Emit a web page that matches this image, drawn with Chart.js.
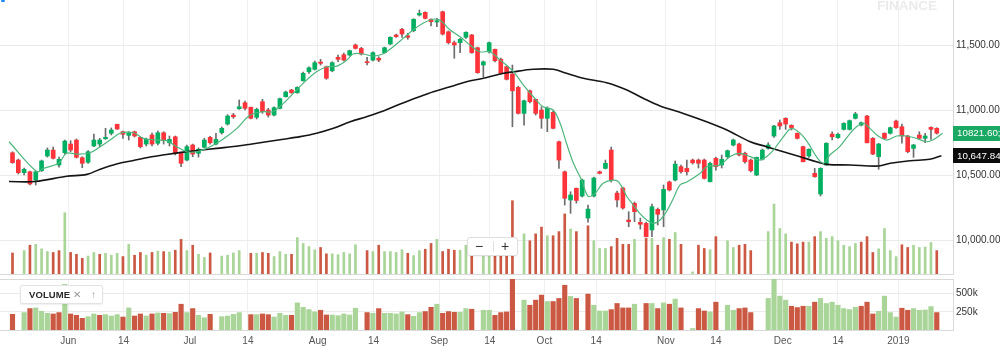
<!DOCTYPE html>
<html>
<head>
<meta charset="utf-8">
<script src="https://cdn.jsdelivr.net/npm/chart.js@4.4.1/dist/chart.umd.min.js"></script>
<style>
html,body{margin:0;padding:0;background:#fff;}
#wrap{position:relative;width:1000px;height:356px;overflow:hidden;background:#fff;font-family:"Liberation Sans",Arial,Helvetica,sans-serif;}
#main{position:absolute;left:0;top:0;}
#vol{position:absolute;left:0;top:276px;}
.wm{position:absolute;left:877px;top:-2px;font-weight:bold;font-size:13.5px;color:#ebebeb;white-space:nowrap;}
.dot{position:absolute;left:1px;top:0;width:4px;height:2px;background:#1a8cff;border-radius:1px;}
.legend{position:absolute;left:20px;top:285px;width:81px;height:17px;background:#fff;border:1px solid #e3e3e3;border-radius:2px;box-shadow:0 1px 2px rgba(0,0,0,0.07);}
.legend span{position:absolute;top:0;line-height:17px;}
.legend .t{left:8px;font-size:9.5px;font-weight:bold;color:#26282a;letter-spacing:0.1px;}
.legend .x{left:52px;font-size:10px;color:#9a9a9a;}
.legend .u{left:70px;font-size:10px;color:#9a9a9a;}
.zoomc{position:absolute;left:467px;top:237px;width:49px;height:17px;background:#fff;border:1px solid #dedede;border-radius:3px;box-shadow:0 1px 2px rgba(0,0,0,0.06);}
.zoomc span{position:absolute;top:0;line-height:16px;font-size:14px;color:#333;}
.zoomc .m{left:7px;}
.zoomc .p{left:33px;}
.zoomc .d{position:absolute;left:25px;top:3px;width:1px;height:11px;background:#e0e0e0;}
</style>
</head>
<body>
<div id="wrap">
  <canvas id="main" width="1000" height="276"></canvas>
  <canvas id="vol" width="1000" height="80"></canvas>
  <div class="wm">FINANCE</div>
  <div class="dot"></div>
  <div class="legend"><span class="t">VOLUME</span><span class="x">✕</span><span class="u">↑</span></div>
  <div class="zoomc"><span class="m">−</span><div class="d"></div><span class="p">+</span></div>
</div>
<script>
// ---------- data ----------
const tickPos = [9.6,19.1,30.5,40.5,52.5,62.1,73.4,82.1,91.5,100.4,112.4,121,132.5,142,152.4];
const tickLabels = ['Jun','14','Jul','14','Aug','14','Sep','14','Oct','14','Nov','14','Dec','14','2019'];
const priceTicks = [10000,10500,11000,11500];
const volTicks = [250000,500000];

const opens = [10671,10615,10518,10525,10461,10533,10646,10692,10577,10671,
10738,10769,10633,10598,10723,10738,10779,10821,10890,10833,
10805,10833,10790,10738,10808,10744,10825,10748,10794,10671,
10615,10731,10667,10713,10790,10738,10825,10892,10961,11010,
11056,11021,10944,11064,11000,10961,11013,11102,11154,11133,
11225,11294,11313,11369,11333,11302,11405,11425,11423,11500,
11474,11371,11384,11398,11441,11508,11577,11621,11571,11610,
11731,11751,11698,11677,11756,11602,11518,11518,11559,11577,
11479,11346,11448,11467,11390,11333,11277,11174,10974,11148,
11082,11000,10936,10982,10756,10525,10308,10398,10338,10169,
10338,10525,10551,10692,10361,10400,10154,10282,10136,10128,
10077,10236,10231,10446,10461,10564,10551,10615,10615,10615,
10448,10628,10577,10641,10731,10738,10667,10615,10500,10621,
10705,10800,10902,10936,10882,10821,10718,10646,10513,10354,
10577,10815,10787,10851,10851,10936,10884,10954,10782,10641,
10821,10821,10915,10871,10800,10705,10808,10782,10867,10859];

const highs = [10679,10623,10554,10531,10531,10615,10708,10715,10638,10769,
10764,10777,10641,10687,10815,10782,10859,10862,10892,10838,
10833,10838,10792,10784,10823,10838,10833,10800,10800,10677,
10731,10738,10708,10782,10798,10821,10869,10964,10974,11077,
11069,11023,11015,11082,11013,11025,11092,11146,11159,11179,
11292,11333,11377,11390,11338,11371,11423,11438,11461,11508,
11482,11405,11448,11410,11484,11564,11584,11628,11590,11702,
11769,11756,11702,11705,11761,11608,11531,11551,11602,11582,
11484,11377,11523,11469,11400,11338,11346,11184,11077,11154,
11084,11025,11025,10992,10761,10531,10371,10400,10469,10269,
10484,10531,10615,10715,10377,10408,10218,10292,10169,10138,
10277,10246,10423,10454,10608,10577,10615,10623,10623,10623,
10600,10638,10654,10692,10777,10746,10677,10623,10638,10700,
10748,10882,10923,10941,10887,10823,10723,10702,10551,10556,
10748,10833,10823,10902,10923,10982,10908,10959,10787,10744,
10825,10869,10923,10892,10805,10736,10833,10821,10871,10864];

const lows = [10590,10508,10500,10423,10423,10527,10638,10623,10561,10661,
10679,10631,10556,10590,10718,10718,10774,10808,10851,10782,
10769,10792,10708,10723,10723,10731,10738,10723,10654,10564,
10608,10641,10638,10708,10738,10731,10815,10884,10936,11005,
11000,10931,10931,10974,10946,10954,11008,11100,11128,11128,
11221,11282,11308,11346,11236,11294,11371,11377,11415,11469,
11423,11346,11377,11371,11436,11502,11559,11559,11544,11602,
11723,11700,11646,11641,11577,11508,11398,11441,11551,11436,
11282,11256,11438,11369,11277,11231,10871,10969,10884,11054,
10961,10859,10833,10854,10551,10269,10205,10284,10331,10138,
10331,10508,10546,10446,10254,10238,10102,10141,10084,10023,
10025,10115,10102,10377,10454,10515,10500,10584,10554,10469,
10446,10538,10554,10631,10723,10646,10592,10523,10495,10615,
10698,10790,10851,10851,10846,10777,10600,10636,10482,10338,
10575,10769,10782,10846,10846,10931,10877,10746,10656,10544,
10777,10815,10859,10744,10671,10636,10774,10748,10774,10815];

const closes = [10595,10518,10544,10431,10525,10608,10692,10628,10621,10761,
10692,10636,10590,10679,10769,10769,10790,10846,10854,10813,
10823,10800,10718,10774,10738,10825,10764,10774,10667,10590,
10718,10661,10698,10769,10748,10774,10859,10954,10948,11025,
11013,10936,11005,10987,10961,11018,11087,11138,11133,11174,
11282,11325,11364,11359,11244,11364,11390,11384,11456,11474,
11431,11364,11441,11384,11479,11559,11564,11584,11559,11698,
11744,11705,11679,11687,11584,11518,11500,11544,11598,11441,
11287,11371,11518,11379,11282,11236,11148,10974,11071,11064,
10974,10936,11013,10859,10615,10321,10346,10304,10461,10238,
10477,10513,10590,10461,10308,10246,10141,10218,10121,10025,
10256,10198,10390,10385,10584,10525,10525,10594,10590,10474,
10590,10564,10621,10687,10769,10654,10602,10533,10636,10692,
10731,10877,10877,10892,10864,10782,10602,10698,10487,10551,
10744,10794,10813,10897,10918,10969,10902,10748,10661,10738,
10782,10864,10864,10800,10679,10731,10782,10800,10851,10821.6];

const volumes = [215000,null,239000,294000,303000,257000,229000,220000,239000,626000,
220000,201000,160000,183000,220000,201000,211000,192000,211000,178000,
303000,192000,220000,192000,220000,234000,229000,225000,243000,354000,
239000,294000,201000,169000,215000,null,183000,192000,215000,239000,
null,211000,211000,220000,211000,178000,229000,201000,201000,372000,
312000,280000,248000,271000,206000,206000,197000,220000,206000,299000,
null,239000,229000,294000,229000,229000,220000,248000,211000,188000,
239000,253000,312000,354000,229000,253000,243000,243000,294000,285000,
null,271000,271000,201000,239000,248000,749000,null,410000,340000,
410000,479000,391000,391000,433000,614000,461000,433000,null,493000,
340000,261000,261000,280000,364000,303000,303000,354000,null,364000,
364000,294000,372000,354000,424000,303000,null,21000,294000,261000,
248000,382000,null,340000,271000,294000,303000,239000,null,null,
433000,715000,465000,410000,326000,308000,326000,326000,382000,433000,
364000,382000,340000,294000,280000,312000,326000,382000,220000,257000,
465000,239000,178000,299000,271000,294000,271000,275000,322000,239000];

const volUp = [0,0,1,0,1,1,1,0,0,1, 0,0,0,1,1,0,1,1,1,0, 1,0,0,1,0,1,0,1,0,0, 1,0,1,1,0,0,1,1,1,1,
0,0,1,0,0,1,1,1,0,1, 1,1,1,0,0,1,1,1,1,1, 0,0,1,0,1,1,1,1,0,1, 1,0,0,1,0,0,0,1,1,0,
0,1,1,0,0,0,0,0,1,0, 0,0,1,0,0,0,1,0,0,0, 1,1,1,0,0,0,0,1,0,0, 1,0,1,0,1,0,0,1,0,0,
1,0,0,1,1,0,0,0,0,0, 1,1,1,1,0,0,0,1,0,1, 1,1,1,1,1,1,0,0,0,1, 1,1,1,0,0,1,1,1,1,0];

const maFastX = [-0.6,4.2,5.3,7.9,9.3,11,13.3,15.1,16.8,18.5,20.8,22.5,24.8,26.5,28.2,30,31.7,33.4,35.1,36.8,38.6,40.9,43.1,44.8,46.6,48.3,50,52.3,54.1,55.8,57.5,58.6,60.3,62,63.7,65.5,67.2,68.9,70.6,72.3,73.5,75.3,77,78.7,80.4,82.1,83.9,86.2,87.9,89.6,91.3,93,94.2,95.3,96.5,97.9,99,100.2,101.6,103.3,104.3,105.7,106.8,107.9,109.1,110.2,111.4,112.5,113.7,114.8,116,118.3,119.4,121.7,123.4,125.1,126.9,128.6,129.7,130.9,132.6,134,135.5,136.9,138.3,139.5,140.6,142.3,144.1,145.2,146.4,147.5,148.7,150.4,152.1,153.8,155.5,157.2,158.3,160];
const maFastY = [10756,10525,10551,10590,10667,10661,10671,10718,10769,10821,10825,10782,10769,10764,10718,10679,10679,10705,10744,10794,10859,10961,10987,10987,11051,11128,11205,11294,11333,11338,11384,11431,11431,11415,11431,11487,11551,11615,11667,11698,11692,11615,11564,11500,11448,11448,11384,11294,11192,11102,11025,11000,10898,10744,10590,10461,10338,10359,10436,10461,10446,10333,10269,10205,10154,10128,10154,10218,10321,10423,10446,10513,10564,10577,10641,10667,10641,10615,10641,10692,10794,10859,10821,10744,10641,10590,10654,10718,10821,10871,10898,10859,10808,10769,10800,10800,10782,10756,10769,10821];

const maSlowX = [-0.6,3.9,9.3,12.8,15.1,17.9,20.8,23.7,26.5,29.4,32.3,35.1,38,40.9,43.7,46.6,49.5,52.3,55.2,58.1,60.9,63.8,66.7,69.5,72.4,75.3,78.1,81,83.9,86.2,89.6,93,95.3,98.2,102.2,105.7,108.5,111.4,115.4,119.4,122.9,126.9,129.7,132.6,135.5,138.3,140.1,144.1,149,151,154.4,157.8,159.8];
const maSlowY = [10450,10450,10490,10505,10545,10585,10612,10638,10658,10676,10690,10705,10719,10737,10756,10775,10795,10821,10859,10910,10948,10992,11046,11094,11141,11179,11218,11244,11277,11294,11313,11313,11282,11244,11210,11154,11090,11031,10974,10910,10846,10756,10718,10679,10641,10602,10582,10577,10569,10590,10610,10621,10648];

const markerValues = [10821.60, 10647.84];
const markerTexts = ['10821.60;', '10,647.84'];

// ---------- styling / layout ----------
const X_MIN = -2.15, X_MAX = 161.79;
const PRICE_MIN = 9738.5, PRICE_MAX = 11846.2;
const OVERLAY_VOL_MAX = 2800000, VOL_MAX = 700000;
const UP = '#00b061', DOWN = '#ff333a', WICK = '#6c6c6c';
const VUP = '#a9d598', VDOWN = '#cb5842';
const MARKER_BG = ['#1aa862', '#0b0b0b'];
const FONT = '"Liberation Sans", Arial, Helvetica, sans-serif';
Chart.defaults.font.family = FONT;
Chart.defaults.font.size = 10;

const idx = closes.map((_, k) => k);
const bodyData = idx.map(k => ({x: k, y: [opens[k], closes[k]]}));
const wickData = idx.map(k => ({x: k, y: [lows[k], highs[k]]}));
const bodyColors = idx.map(k => closes[k] >= opens[k] ? UP : DOWN);
const volIdx = idx.filter(k => volumes[k] != null);
const volPts = volIdx.map(k => ({x: k, y: volumes[k]}));
const volColors = volIdx.map(k => volUp[k] ? VUP : VDOWN);
const fastPts = maFastX.map((x, k) => ({x, y: maFastY[k]}));
const slowPts = maSlowX.map((x, k) => ({x, y: maSlowY[k]}));

function xAxis(showLabels) {
  return {
    type: 'linear', min: X_MIN, max: X_MAX, offset: false,
    afterBuildTicks: s => { s.ticks = tickPos.map(v => ({value: v})); },
    afterFit: s => { s.height = showLabels ? 26 : 0; s.paddingLeft = 0; s.paddingRight = 0; },
    grid: {color: '#efefef', drawTicks: false, lineWidth: 1, offset: false},
    border: {display: true, color: '#d9d9d9'},
    ticks: {display: showLabels, autoSkip: false, maxRotation: 0, padding: 5, color: '#555',
      font: {size: 10}, callback: (v, i) => tickLabels[i]}
  };
}

function yFit(s) { s.width = 47; s.paddingTop = 0; s.paddingBottom = 0; }

const markerPlugin = {
  id: 'markers',
  afterDraw(chart) {
    const {ctx, chartArea} = chart;
    const y = chart.scales.y;
    ctx.save();
    markerValues.forEach((v, k) => {
      const py = y.getPixelForValue(v);
      ctx.fillStyle = MARKER_BG[k];
      ctx.fillRect(chartArea.right, Math.round(py - 7.5), chart.width - chartArea.right, 15);
      ctx.fillStyle = '#ffffff';
      ctx.font = '9.8px ' + FONT;
      ctx.textBaseline = 'middle';
      ctx.textAlign = 'left';
      ctx.fillText(markerTexts[k], chartArea.right + 4, Math.round(py) + 0.5);
    });
    ctx.restore();
  }
};

const framePlugin = {
  id: 'frame',
  beforeDatasetsDraw(chart) {
    const {ctx, chartArea: a} = chart;
    ctx.save();
    ctx.strokeStyle = '#d9d9d9';
    ctx.lineWidth = 1;
    ctx.beginPath();
    ctx.moveTo(a.left, Math.round(a.top) + 0.5);
    ctx.lineTo(a.right, Math.round(a.top) + 0.5);
    ctx.stroke();
    ctx.restore();
  }
};

const common = {
  responsive: false, animation: false, events: [], devicePixelRatio: 1,
  plugins: {legend: {display: false}, tooltip: {enabled: false}}
};

new Chart(document.getElementById('main'), {
  type: 'bar',
  data: {
    datasets: [
      {type: 'line', data: fastPts, borderColor: '#4cb67c', borderWidth: 1.2, pointRadius: 0, tension: 0.35, yAxisID: 'y', order: 0},
      {type: 'line', data: slowPts, borderColor: '#151515', borderWidth: 1.6, pointRadius: 0, tension: 0.35, yAxisID: 'y', order: 0},
      {type: 'bar', data: bodyData, backgroundColor: bodyColors, barThickness: 4, minBarLength: 1, stack: 'c', yAxisID: 'y', order: 1},
      {type: 'bar', data: wickData, backgroundColor: WICK, barThickness: 1, stack: 'c', yAxisID: 'y', order: 2},
      {type: 'bar', data: volPts, backgroundColor: volColors, barThickness: 2, stack: 'c', yAxisID: 'yv', order: 3}
    ]
  },
  options: Object.assign({}, common, {
    layout: {autoPadding: false, padding: {top: 0, right: 0, bottom: 2, left: 0}},
    scales: {
      x: xAxis(false),
      y: {type: 'linear', position: 'right', min: PRICE_MIN, max: PRICE_MAX, stacked: false,
        afterBuildTicks: s => { s.ticks = priceTicks.map(v => ({value: v})); },
        afterFit: yFit,
        grid: {color: '#ebebeb', drawTicks: false},
        border: {display: true, color: '#d9d9d9'},
        ticks: {padding: 3, color: '#333', font: {size: 10},
          callback: v => v.toLocaleString('en-US', {minimumFractionDigits: 2, maximumFractionDigits: 2})}},
      yv: {type: 'linear', display: false, min: 0, max: OVERLAY_VOL_MAX, stacked: false}
    }
  }),
  plugins: [markerPlugin]
});

new Chart(document.getElementById('vol'), {
  type: 'bar',
  data: {
    datasets: [
      {data: volPts, backgroundColor: volColors, barThickness: 4.5}
    ]
  },
  options: Object.assign({}, common, {
    layout: {autoPadding: false, padding: {top: 3, right: 0, bottom: 0, left: 0}},
    scales: {
      x: xAxis(true),
      y: {type: 'linear', position: 'right', min: 0, max: VOL_MAX,
        afterBuildTicks: s => { s.ticks = volTicks.map(v => ({value: v})); },
        afterFit: yFit,
        grid: {color: '#ebebeb', drawTicks: false},
        border: {display: true, color: '#d9d9d9'},
        ticks: {padding: 3, color: '#333', font: {size: 10}, callback: v => (v / 1000) + 'k'}}
    }
  }),
  plugins: [framePlugin]
});
</script>
</body>
</html>
